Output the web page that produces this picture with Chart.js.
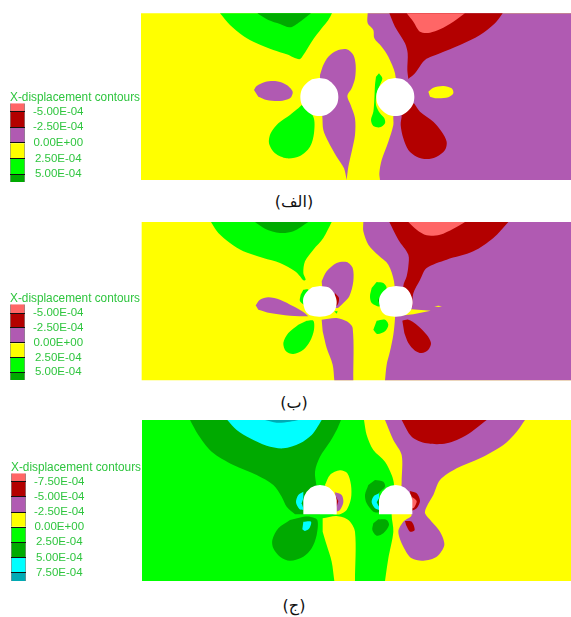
<!DOCTYPE html>
<html>
<head>
<meta charset="utf-8">
<script src="https://cdn.jsdelivr.net/npm/chart.js@4"></script>
<style>
    html, body { margin: 0; padding: 0; background: #fff; }
    body { position: relative; width: 571px; height: 617px; overflow: hidden; }
    canvas { position: absolute; }
    .cap { position: absolute; left: 244px; width: 100px; text-align: center; font: 16px "DejaVu Sans", sans-serif; color: #111; }
</style>
</head>
<body>
<canvas id="fieldA" width="431" height="175" style="left:140px;top:10px"></canvas>
<canvas id="fieldB" width="431" height="165" style="left:140px;top:218px"></canvas>
<canvas id="fieldC" width="431" height="170" style="left:140px;top:415px"></canvas>
<canvas id="legendA" width="140" height="101" style="left:0;top:83px"></canvas>
<canvas id="legendB" width="140" height="98" style="left:0;top:284px"></canvas>
<canvas id="legendC" width="140" height="130" style="left:1px;top:453px"></canvas>
<div class="cap" dir="rtl" style="top:192px">(الف)</div>
<div class="cap" dir="rtl" style="top:393px">(ب)</div>
<div class="cap" dir="rtl" style="top:596px">(ج)</div>
<script>
// legend levels
const legendTitle = 'X-displacement contours';
const labelsAB = ['-5.00E-04', '-2.50E-04', '0.00E+00', '2.50E-04', '5.00E-04'];
const levelsAB = [-5e-4, -2.5e-4, 0, 2.5e-4, 5e-4];
const edgesA = [-6.33e-4, -5e-4, -2.5e-4, 0, 2.5e-4, 5e-4, 6.27e-4];
const edgesB = [-6.5e-4, -5e-4, -2.5e-4, 0, 2.5e-4, 5e-4, 6.3e-4];
const labelsC = ['-7.50E-04', '-5.00E-04', '-2.50E-04', '0.00E+00', '2.50E-04', '5.00E-04', '7.50E-04'];
const levelsC = [-7.5e-4, -5e-4, -2.5e-4, 0, 2.5e-4, 5e-4, 7.5e-4];
const edgesC = [-8.9e-4, -7.5e-4, -5e-4, -2.5e-4, 0, 2.5e-4, 5e-4, 7.5e-4, 8.9e-4];

// contour colours
const SALMON = '#ff6666', RED = '#b30000', PURPLE = '#b05ab2', YELLOW = '#ffff00',
      GREEN = '#00ff00', DKGREEN = '#00aa00', CYAN = '#00ffff', TEAL = '#00aab4', TEXT = '#2fc53f';
const bandsAB = [SALMON, RED, PURPLE, YELLOW, GREEN, DKGREEN];
const bandsC = [SALMON, RED, PURPLE, YELLOW, GREEN, DKGREEN, CYAN, TEAL];

// --- panel A contours (repeated vertices keep a corner sharp under the spline)
const a_base = [[3,10],[1293,10],[1293,510],[3,510]];
const a_greenTop = [[240,10],[270,45],[310,78],[350,100],[400,120],[440,133],[478,148],[490,135],[515,95],[545,55],[565,30],[576,10]];
const a_dkGreenTop = [[352,10],[385,30],[420,42],[450,52],[480,35],[513,10]];
const a_purpleRight = [[683,10],[683,40],[700,60],[703,85],[725,110],[745,140],[765,190],[770,260],[760,318],[760,345],[745,395],[725,450],[718,490],[720,510],[720,510],[1293,510],[1293,510],[1293,10],[1293,10]];
const a_redTop = [[748,10],[765,50],[795,100],[803,130],[802,180],[805,207],[805,207],[825,190],[855,150],[900,130],[960,105],[1020,75],[1065,40],[1088,10]];
const a_salmonTop = [[800,10],[820,35],[840,65],[870,68],[900,58],[940,35],[975,10]];
const a_redLow = [[822,280],[840,305],[880,335],[905,365],[920,395],[915,420],[890,440],[860,447],[830,440],[805,420],[790,385],[782,345],[785,315],[780,290]];
const a_purpleLobe = [[540,195],[550,165],[565,140],[590,122],[620,118],[640,135],[647,165],[645,205],[635,235],[622,258],[632,285],[645,325],[645,375],[635,425],[625,470],[620,510],[620,510],[612,475],[590,440],[565,395],[550,360],[547,320],[540,260]];
const a_purpleLeft = [[342,240],[350,228],[375,216],[410,214],[440,225],[458,245],[450,265],[420,273],[380,270],[355,260]];
const a_greenLeft = [[485,285],[520,320],[522,370],[510,410],[480,438],[440,445],[405,430],[387,400],[392,370],[415,340],[450,315],[475,295]];
const a_greenMid = [[717,190],[727,205],[720,225],[710,250],[708,285],[720,310],[733,325],[735,340],[720,352],[700,348],[693,330],[700,305],[703,270],[705,225],[708,200]];
const a_yellowRight = [[865,245],[880,233],[910,228],[935,235],[940,250],[925,262],[890,265],[870,260]];
const a_tunnel1 = [[538,204],[560,208],[578,221],[591,239],[595,261],[591,283],[578,301],[560,314],[538,318],[516,314],[498,301],[485,283],[481,261],[485,239],[498,221],[516,208]];
const a_tunnel2 = [[766,204],[788,208],[806,221],[819,239],[823,261],[819,283],[806,301],[788,314],[766,318],[744,314],[726,301],[713,283],[709,261],[713,239],[726,221],[744,208]];

// --- panel B contours
const b_base = [[5,12],[1293,12],[1293,487],[5,487]];
const b_greenTop = [[213,12],[235,45],[270,75],[310,100],[370,120],[420,135],[465,160],[480,175],[490,187],[497,185],[490,165],[495,130],[520,95],[550,60],[575,12]];
const b_dkGreenTop = [[345,12],[375,32],[420,45],[460,40],[505,12]];
const b_purpleRight = [[670,12],[670,40],[685,80],[715,112],[745,140],[762,190],[765,250],[765,300],[760,350],[750,400],[740,440],[735,487],[735,487],[1293,487],[1293,487],[1293,12],[1293,12]];
const b_yellowFlare = [[712,280],[750,296],[820,289],[872,278],[815,274]];
const b_yellowDash = [[883,265],[895,263],[906,265],[895,267]];
const b_redTop = [[748,12],[775,65],[805,110],[805,145],[800,175],[790,205],[800,250],[817,266],[817,266],[820,226],[840,186],[860,150],[920,125],[1000,100],[1060,60],[1105,12]];
const b_salmonTop = [[805,12],[830,35],[860,52],[900,50],[940,32],[975,12]];
const b_redLow = [[787,308],[805,305],[830,320],[860,350],[873,375],[865,395],[845,405],[825,398],[805,375],[793,345]];
const b_purpleUp = [[545,190],[560,160],[590,135],[620,132],[638,150],[640,190],[628,235],[610,255],[590,270],[550,240]];
const b_redTunnel = [[585,225],[597,240],[592,262],[580,262]];
const b_purpleWing = [[347,262],[360,245],[385,238],[420,245],[460,265],[490,282],[505,295],[505,295],[450,293],[390,285],[355,275]];
const b_greenTunnel = [[490,215],[505,215],[500,262],[480,250],[482,230]];
const b_greenDot = [[583,280],[593,280],[590,287]];
const b_purpleLow = [[545,305],[590,300],[620,310],[638,330],[640,487],[640,487],[583,487],[583,487],[578,440],[560,390],[548,340]];
const b_greenLeft = [[500,308],[520,308],[522,335],[510,370],[490,395],[460,408],[438,400],[430,375],[445,345],[475,320]];
const b_greenMid = [[710,192],[730,195],[740,210],[725,240],[720,265],[695,255],[690,235],[695,210]];
const b_dkGreenMid = [[718,236],[722,250],[720,258],[714,248]];
const b_greenLow = [[710,308],[735,305],[745,320],[735,340],[712,348],[700,335]];
const b_tunnel1 = [[540,204],[565,208],[580,222],[588,240],[590,255],[585,275],[570,290],[540,296],[510,292],[497,280],[490,258],[490,240],[500,222],[517,208]];
const b_tunnel2 = [[768,204],[793,208],[808,222],[816,240],[818,255],[813,275],[798,290],[768,296],[738,292],[725,280],[718,258],[718,240],[728,222],[745,208]];

// --- panel C contours
const c_base = [[6,15],[1293,15],[1293,498],[6,498]];
const c_dkGreenTop = [[150,15],[175,60],[215,110],[280,150],[350,180],[400,210],[425,245],[440,275],[465,298],[465,298],[540,298],[540,298],[530,215],[525,170],[540,125],[570,80],[590,45],[603,15]];
const c_cyanTop = [[262,15],[290,45],[330,70],[380,92],[430,100],[480,85],[515,60],[530,40],[545,15]];
const c_tealTop = [[375,15],[410,23],[450,20],[475,15]];
const c_yellowRight = [[672,15],[680,60],[700,105],[735,140],[755,180],[762,210],[755,300],[760,350],[745,430],[735,498],[735,498],[1293,498],[1293,498],[1293,15],[1293,15]];
const c_purpleRight = [[735,15],[760,75],[785,120],[785,200],[785,260],[815,300],[790,320],[775,350],[790,395],[815,430],[850,437],[890,425],[913,390],[900,350],[875,320],[855,295],[860,275],[880,240],[900,195],[950,160],[1020,130],[1090,90],[1130,50],[1155,15]];
const c_redTop = [[785,15],[815,65],[860,85],[920,85],[980,60],[1040,15]];
const c_redTunnel = [[810,228],[830,235],[840,258],[830,280],[815,288]];
const c_salmonTunnel = [[815,245],[830,258],[822,278],[815,280]];
const c_redLow = [[795,318],[815,320],[824,345],[810,350],[798,330]];
const c_yellowUp = [[555,210],[570,180],[600,166],[622,175],[633,210],[633,250],[620,285],[600,298],[580,298]];
const c_purpleTunnel = [[585,232],[605,240],[610,262],[600,285],[590,290]];
const c_redTunnelL = [[588,245],[595,258],[590,275]];
const c_cyanTunnelL = [[490,230],[475,240],[468,262],[478,282],[490,285]];
const c_dkGreenInnerL = [[490,250],[485,265],[490,280]];
const c_dkGreenLeft = [[490,305],[510,305],[532,315],[530,360],[515,400],[490,425],[450,437],[420,425],[400,400],[397,375],[415,340],[450,315]];
const c_cyanLow = [[490,320],[513,320],[508,340],[495,348],[487,343]];
const c_purpleLow = [[567,318],[585,315],[593,335],[585,347],[570,343]];
const c_yellowLow = [[548,310],[590,303],[625,315],[645,350],[645,498],[645,498],[583,498],[583,498],[575,440],[560,390],[548,350]];
const c_dkGreenMid = [[705,195],[730,200],[735,215],[717,235],[717,290],[700,290],[680,265],[675,240],[685,210]];
const c_cyanMid = [[717,235],[700,245],[695,262],[705,280],[717,285]];
const c_dkGreenInner = [[717,250],[710,262],[717,275]];
const c_dkGreenLow = [[715,313],[740,315],[747,330],[730,355],[710,362],[697,345],[700,325]];
const c_tunnel1 = [[540,210],[555,212],[568,218],[580,230],[587,243],[590,256],[590,298],[490,298],[490,256],[493,243],[500,230],[512,218],[525,212]];
const c_tunnel2 = [[767,210],[782,212],[795,218],[807,230],[814,243],[817,256],[817,298],[717,298],[717,256],[720,243],[727,230],[739,218],[752,212]];

// draw order: first entry is painted first
const regionsA = [
    [a_base, YELLOW, 0], [a_greenTop, GREEN], [a_dkGreenTop, DKGREEN], [a_purpleRight, PURPLE], [a_redTop, RED],
    [a_salmonTop, SALMON], [a_redLow, RED], [a_purpleLobe, PURPLE], [a_purpleLeft, PURPLE], [a_greenLeft, GREEN],
    [a_greenMid, GREEN], [a_yellowRight, YELLOW], [a_tunnel1, '#fff'], [a_tunnel2, '#fff']
];
const regionsB = [
    [b_base, YELLOW, 0], [b_greenTop, GREEN], [b_dkGreenTop, DKGREEN], [b_purpleRight, PURPLE], [b_redTop, RED],
    [b_salmonTop, SALMON], [b_redLow, RED], [b_yellowFlare, YELLOW, 0], [b_yellowDash, YELLOW, 0], [b_purpleUp, PURPLE],
    [b_redTunnel, RED], [b_purpleWing, PURPLE], [b_greenTunnel, GREEN], [b_greenDot, GREEN, 0], [b_purpleLow, PURPLE],
    [b_greenLeft, GREEN], [b_greenMid, GREEN], [b_dkGreenMid, DKGREEN], [b_greenLow, GREEN],
    [b_tunnel1, '#fff'], [b_tunnel2, '#fff']
];
const regionsC = [
    [c_base, GREEN, 0], [c_dkGreenTop, DKGREEN], [c_cyanTop, CYAN], [c_tealTop, TEAL], [c_yellowRight, YELLOW],
    [c_purpleRight, PURPLE], [c_redTop, RED], [c_redTunnel, RED], [c_salmonTunnel, SALMON], [c_redLow, RED],
    [c_yellowUp, YELLOW], [c_purpleTunnel, PURPLE], [c_redTunnelL, RED, 0], [c_cyanTunnelL, CYAN], [c_dkGreenInnerL, DKGREEN, 0],
    [c_dkGreenLeft, DKGREEN], [c_cyanLow, CYAN], [c_purpleLow, PURPLE], [c_yellowLow, YELLOW], [c_dkGreenMid, DKGREEN],
    [c_cyanMid, CYAN], [c_dkGreenInner, DKGREEN, 0], [c_dkGreenLow, DKGREEN], [c_tunnel1, '#fff', 0], [c_tunnel2, '#fff', 0]
];

function drawField(id, regions, xMax, yMax) {
    new Chart(document.getElementById(id), {
        type: 'scatter',
        data: {
            datasets: regions.map((r, i) => ({
                data: r[0],
                showLine: true,
                fill: 'shape',
                backgroundColor: r[1],
                borderWidth: 0,
                pointRadius: 0,
                tension: r[2] === 0 ? 0 : 0.3,
                order: regions.length - i
            }))
        },
        options: {
            responsive: false,
            animation: false,
            layout: { padding: 0 },
            plugins: { legend: { display: false }, title: { display: false }, tooltip: { enabled: false } },
            scales: {
                x: { display: false, min: 0, max: xMax },
                y: { display: false, min: 0, max: yMax, reverse: true }
            }
        }
    });
}

function drawLegend(id, edges, colors, levels, labels) {
    new Chart(document.getElementById(id), {
        type: 'bar',
        data: {
            labels: [''],
            datasets: colors.map((c, i) => ({
                data: [[edges[i], edges[i + 1]]],
                backgroundColor: c,
                borderColor: '#8a8a8a',
                borderWidth: { left: 1, right: 1, top: 0, bottom: 0 },
                borderSkipped: false,
                categoryPercentage: 1,
                barPercentage: 1,
                grouped: false
            }))
        },
        options: {
            responsive: false,
            animation: false,
            layout: { padding: { left: 10, right: 0, top: 0, bottom: 2 } },
            plugins: {
                legend: { display: false },
                tooltip: { enabled: false },
                title: {
                    display: true,
                    text: legendTitle,
                    align: 'start',
                    color: TEXT,
                    font: { family: '"Liberation Sans"', size: 12, weight: 'normal' },
                    padding: { top: 7, bottom: -1.1 }
                }
            },
            scales: {
                x: { display: false },
                y: {
                    position: 'right',
                    reverse: true,
                    min: edges[0],
                    max: edges[edges.length - 1],
                    afterBuildTicks: s => { s.ticks = levels.map(v => ({ value: v })); },
                    afterFit: s => { s.width = 115; s.paddingTop = 0; s.paddingBottom = 0; },
                    border: { display: false },
                    grid: { z: 1, color: '#111', lineWidth: 1, drawTicks: false },
                    ticks: {
                        autoSkip: false,
                        padding: 8,
                        crossAlign: 'center',
                        color: TEXT,
                        font: { family: '"Liberation Sans"', size: 11.5 },
                        callback: (v, i) => labels[i]
                    }
                }
            }
        }
    });
}

drawField('fieldA', regionsA, 1293, 525);
drawField('fieldB', regionsB, 1293, 495);
drawField('fieldC', regionsC, 1293, 510);
drawLegend('legendA', edgesA, bandsAB, levelsAB, labelsAB);
drawLegend('legendB', edgesB, bandsAB, levelsAB, labelsAB);
drawLegend('legendC', edgesC, bandsC, levelsC, labelsC);
</script>
</body>
</html>
